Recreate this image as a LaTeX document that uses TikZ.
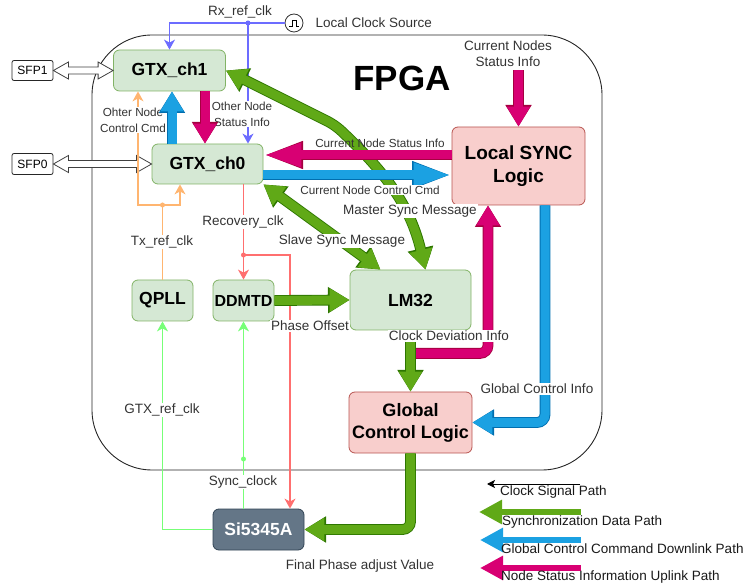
\documentclass[tikz,border=0pt]{standalone}
\usepackage{fontspec}
\setmainfont{Liberation Sans}
\usetikzlibrary{arrows.meta,calc}

\definecolor{syncgreen}{HTML}{60A917}
\definecolor{syncdark}{HTML}{2D7600}
\definecolor{cmdblue}{HTML}{1BA1E2}
\definecolor{cmddark}{HTML}{006EAF}
\definecolor{statmag}{HTML}{D80073}
\definecolor{statdark}{HTML}{A50040}
\definecolor{boxgreen}{HTML}{D5E8D4}
\definecolor{boxgreenline}{HTML}{82B366}
\definecolor{boxpink}{HTML}{F8CECC}
\definecolor{boxpinkline}{HTML}{B85450}
\definecolor{chipfill}{HTML}{647687}
\definecolor{chipline}{HTML}{314354}
\definecolor{rxblue}{HTML}{6C6CFF}
\definecolor{txorange}{HTML}{FFB570}
\definecolor{recred}{HTML}{FF6F6F}
\definecolor{syncclk}{HTML}{77FF77}
\definecolor{labelgray}{HTML}{333333}

\newcommand\fsTitle{\fontsize{35}{40}\selectfont}
\newcommand\fsNode{\fontsize{17.5}{22}\selectfont}
\newcommand\fsLabel{\fontsize{13.5}{16}\selectfont}
\newcommand\fsSmall{\fontsize{11.7}{16}\selectfont}

\tikzset{
  box/.style={line width=0.8pt, rounded corners=6pt, inner sep=0pt, align=center, font=\fsNode\bfseries},
  greenbox/.style={box, draw=boxgreenline, fill=boxgreen},
  pinkbox/.style={box, draw=boxpinkline, fill=boxpink},
  chipbox/.style={box, draw=chipline, fill=chipfill, text=white},
  portbox/.style={draw=black!85, line width=0.8pt, rounded corners=2pt, inner sep=0pt, font=\fontsize{12}{14}\selectfont},
  lbl/.style={font=\fsLabel, text=labelgray, fill=white, inner sep=1pt, align=center},
  slbl/.style={lbl, font=\fsSmall},
  legendtext/.style={font=\fsLabel, text=black!90, inner sep=0pt, anchor=west},
  clkwire/.style={line width=1.3pt},
  clkline/.style={clkwire, -{Stealth[length=10pt,width=11pt,inset=3pt]}},
  flex/.style={line width=9pt, rounded corners=8pt},
  fx/.style={-{Triangle[length=20pt,width=22pt]}},
  fxlong/.style={-{Triangle[length=38pt,width=22pt]}},
  fxx/.style={{Triangle[length=20pt,width=22pt]}-{Triangle[length=20pt,width=22pt]}},
  % darker rim drawn underneath each wide arrow
  rim/.style={preaction={draw=#1, line width=10.8pt, -{Triangle[length=21.6pt,width=24.8pt]}}},
  rimlong/.style={preaction={draw=#1, line width=10.8pt, -{Triangle[length=39.6pt,width=24.8pt]}}},
  rimboth/.style={preaction={draw=#1, line width=10.8pt, {Triangle[length=21.6pt,width=24.8pt]}-{Triangle[length=21.6pt,width=24.8pt]}}},
  hollow/.style={draw=black!75, fill=white, line width=0.8pt, line join=miter},
  dot/.style={circle, fill, inner sep=0pt, minimum size=5pt},
}

\begin{document}
\begin{tikzpicture}[x=1pt,y=-1pt]
\useasboundingbox (0,0) rectangle (756,588);

% FPGA outline and title
\draw[black!85, line width=0.9pt, rounded corners=60pt] (92,35) rectangle (602,470);
\node[font=\fsTitle\bfseries] (title) at (402,78) {FPGA};

% blocks
\node[greenbox, minimum width=112pt, minimum height=41pt] (gtx1) at (169.5,70.5) {GTX\_ch1};
\node[greenbox, minimum width=111pt, minimum height=40pt] (gtx0) at (207.5,164) {GTX\_ch0};
\node[greenbox, minimum width=61pt, minimum height=41pt] (qpll) at (162.5,300.5) {QPLL};
\node[greenbox, minimum width=61pt, minimum height=41pt, font=\fontsize{16}{19}\selectfont\bfseries] (ddmtd) at (243.5,300.5) {DDMTD};
\node[greenbox, minimum width=121pt, minimum height=60pt] (lm32) at (410.5,300) {LM32};
\node[pinkbox, minimum width=133pt, minimum height=78pt, font=\fontsize{19}{23}\selectfont\bfseries] (lsync) at (518.5,166) {Local SYNC\\Logic};
\node[pinkbox, minimum width=123pt, minimum height=61pt, font=\fontsize{18}{22}\selectfont\bfseries] (gcl) at (410.5,422.5) {Global\\Control Logic};
\node[chipbox, minimum width=91pt, minimum height=41pt] (si) at (258.5,529.5) {Si5345A};
\node[portbox, minimum width=41pt, minimum height=20pt] (sfp1) at (32.5,70.5) {SFP1};
\node[portbox, minimum width=41pt, minimum height=21pt] (sfp0) at (32.5,164) {SFP0};

% local clock source
\node[circle, draw=black!80, line width=0.8pt, minimum size=18pt, inner sep=0pt] (clk) at (294,23) {};
\draw[line width=0.7pt] ([shift={(-5,3)}]clk.center) -- ++(3,0) -- ++(0,-6) -- ++(4,0) -- ++(0,6) -- ++(3,0);
\node[font=\fsLabel, text=labelgray, anchor=west] (clktext) at (312,23) {Local Clock Source};

% SFP links
\draw[hollow] (sfp1.east) -- ++(15,-8.5) -- ++(0,5) -- ($(gtx1.west)+(-15,-3.5)$) -- ++(0,-5) -- (gtx1.west)
  -- ++(-15,8.5) -- ++(0,-5) -- ($(sfp1.east)+(15,3.5)$) -- ++(0,5) -- cycle;
\draw[hollow] (sfp0.east) -- ++(15,-8.5) -- ++(0,5) -- ($(gtx0.west)+(-15,-3.5)$) -- ++(0,-5) -- (gtx0.west)
  -- ++(-15,8.5) -- ++(0,-5) -- ($(sfp0.east)+(15,3.5)$) -- ++(0,5) -- cycle;

% Rx reference clock
\coordinate (rxj) at (248,23);
\draw[clkline, rxblue] (clk.west) -| (gtx1.north);
\draw[clkline, rxblue] (rxj) -- (rxj |- gtx0.north);
\node[dot, rxblue] at (rxj) {};
\node[font=\fsLabel, text=labelgray] (rxlbl) at (240,12) {Rx\_ref\_clk};
\node[slbl] (onsi) at (242,114) {Other Node\\Status Info};

% Tx reference clock
\coordinate (txj) at (162.5,205);
\draw[clkwire, txorange] (qpll.north) -- (txj);
\draw[clkline, txorange] (txj) -| ([xshift=-31.5]gtx1.south);
\draw[clkline, txorange] (txj) -| ([xshift=-27.5]gtx0.south);
\node[dot, txorange] at (txj) {};
\node[lbl] (txlbl) at (162,242) {Tx\_ref\_clk};
\node[slbl] (oncc) at (133,120) {Ohter Node\\Control Cmd};

% recovery clock
\coordinate (rj) at (243.5,255);
\draw[clkwire, recred] (rj |- gtx0.south) -- (rj);
\draw[clkline, recred] (rj) -- (ddmtd.north);
\draw[clkline, recred] (rj) -| ([xshift=31.5]si.north);
\node[dot, recred] at (rj) {};
\node[lbl] (reclbl) at (243,222) {Recovery\_clk};

% clocks from Si5345A
\coordinate (sj) at (243.5,459);
\draw[clkline, syncclk] (si.west) -| (qpll.south);
\draw[clkline, syncclk] (si.north -| ddmtd.south) -- (ddmtd.south);
\node[dot, syncclk] at (sj) {};
\node[lbl] (gtxref) at (162,410) {GTX\_ref\_clk};
\node[lbl] (synclbl) at (243,482) {Sync\_clock};

% synchronization messages
\draw[flex, syncgreen, fxx, rimboth=syncdark] (gtx1.east) -- (335,125) .. controls (385,172) and (410,205) .. ([xshift=15]lm32.north);
\draw[flex, syncgreen, fxx, rimboth=syncdark] (gtx0.south east) -- ([xshift=-30]lm32.north);
\draw[flex, syncgreen, fx, rim=syncdark] (ddmtd.east) -- (lm32.west);

% status / command paths
\draw[flex, statmag, fx, rim=statdark] ([xshift=35.5]gtx1.south) -- ([xshift=35.5]gtx1.south |- gtx0.north);
\draw[flex, cmdblue, fx, rim=cmddark] ([xshift=-35.5]gtx0.south |- gtx0.north) -- ([xshift=-35.5]gtx0.north |- gtx1.south);
\draw[flex, statmag, fxlong, rimlong=statdark] ([yshift=11]lsync.west) -- ([yshift=11]lsync.west -| gtx0.east);
\draw[flex, cmdblue, fxlong, rimlong=cmddark] ([yshift=-9]lsync.west -| gtx0.east) -- ([yshift=-9]lsync.west);
\node[font=\fsLabel, text=labelgray, align=center] (cnsi) at (508,54) {Current Nodes\\Status Info};
\draw[flex, statmag, fx, rim=statdark] (cnsi.south -| lsync.north) -- (lsync.north);
\draw[flex, statmag, fx, rim=statdark] (lm32.south) ++(0,23) -| ([xshift=-30.5]lsync.south);
\draw[flex, syncgreen, fx, rim=syncdark] (lm32.south) -- (gcl.north);
\draw[flex, cmdblue, fx, rim=cmddark] ([xshift=26.5]lsync.south) |- (gcl.east);
\draw[flex, syncgreen, fx, rim=syncdark] (gcl.south) |- (si.east);

% path labels
\node[slbl, fill=none] (l1) at (380,143) {Current Node Status Info};
\node[slbl] (l2) at (370,190) {Current Node Control Cmd};
\node[lbl] (l3) at (410,211) {Master Sync Message};
\node[lbl] (l4) at (342,241) {Slave Sync Message};
\node[lbl] (l5) at (310,326) {Phase Offset};
\node[lbl] (l6) at (449,336) {Clock Deviation Info};
\node[lbl] (l7) at (537,389) {Global Control Info};
\node[lbl] (l8) at (360,566) {Final Phase adjust Value};

% legend
\coordinate (lgA1) at (580,484); \coordinate (lgA2) at (487,484);
\coordinate (lgB1) at (581,512); \coordinate (lgB2) at (479,512);
\coordinate (lgC1) at (581,540); \coordinate (lgC2) at (480,540);
\coordinate (lgD1) at (581,568); \coordinate (lgD2) at (480,568);
\draw[black, line width=0.8pt, -{Stealth[length=8pt,width=8pt,inset=2pt]}] (lgA1) -- (lgA2);
\draw[syncgreen, line width=6pt, -{Triangle[length=23pt,width=23pt]}] (lgB1) -- (lgB2);
\draw[cmdblue, line width=6pt, -{Triangle[length=23pt,width=23pt]}] (lgC1) -- (lgC2);
\draw[statmag, line width=6pt, -{Triangle[length=23pt,width=23pt]}] (lgD1) -- (lgD2);
\node[legendtext] (lgAt) at (500,492) {Clock Signal Path};
\node[legendtext] (lgBt) at (502,522) {Synchronization Data Path};
\node[legendtext] (lgCt) at (501,549) {Global Control Command Downlink Path};
\node[legendtext] (lgDt) at (501,577) {Node Status Information Uplink Path};
\end{tikzpicture}
\end{document}
